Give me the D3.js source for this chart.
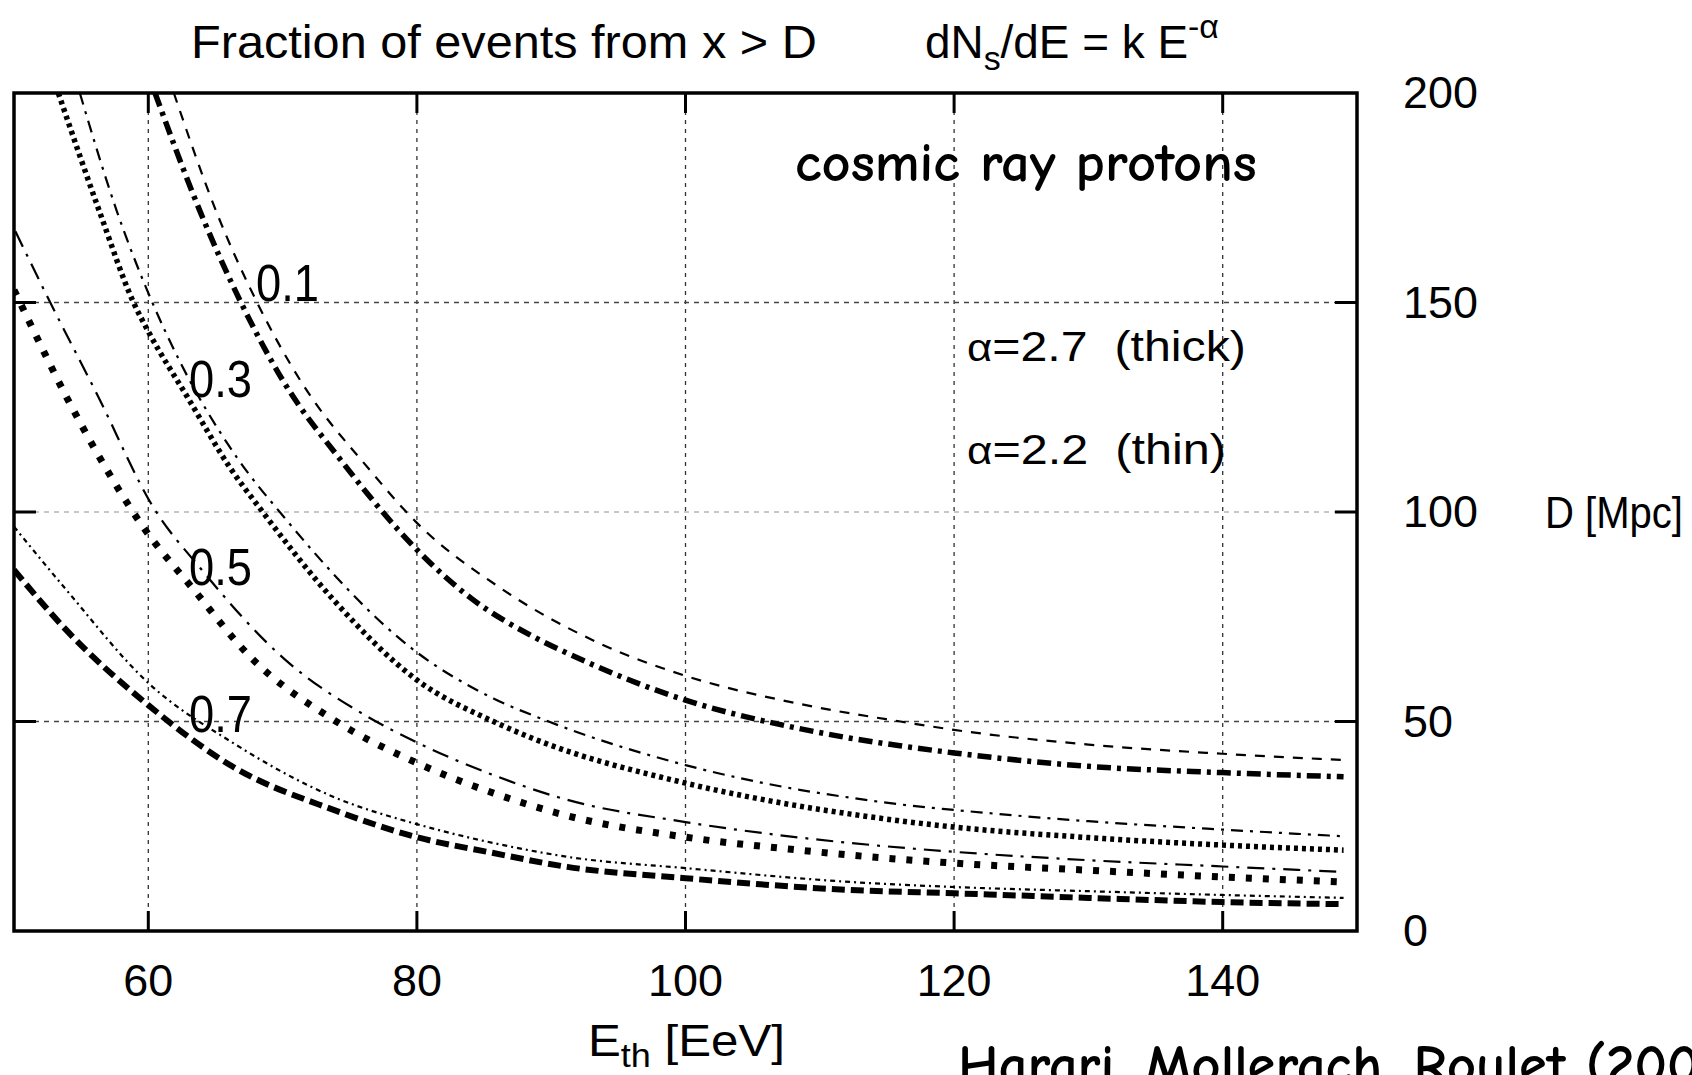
<!DOCTYPE html>
<html>
<head>
<meta charset="utf-8">
<script src="https://cdn.jsdelivr.net/npm/d3@7"></script>
<style>
  html, body { margin: 0; padding: 0; background: #fff; overflow: hidden; }
  svg { display: block; }
  text { font-family: "Liberation Sans", Arial, Helvetica, sans-serif; fill: #000; white-space: pre; }
  .comic { font-family: "Comic Sans MS", "Comic Neue", "Open Sans", sans-serif; font-weight: 700; }
</style>
</head>
<body>
<svg id="chart" width="1692" height="1075"></svg>
<script>
// ---------------- data ----------------
const xTicks = [60, 80, 100, 120, 140];
const yTicks = [0, 50, 100, 150, 200];
const yGrid = [50, 100, 150];
const fractionLabels = ["0.1", "0.3", "0.5", "0.7"];

// fraction 0.1
const E_01_thick = [60.5, 63.9, 66.9, 70.0, 74.5, 80, 84, 88.7, 91.2, 100, 108.5, 112.3, 116, 120, 130, 140, 149];
const D_01_thick = [200, 171.4, 150, 131.5, 111.7, 91, 79.5, 70.2, 66.3, 55.1, 48.3, 46.0, 44.2, 42.5, 39.3, 37.8, 36.8];
const E_01_thin  = [61.9, 65.1, 68.1, 71.3, 76.5, 80, 86.2, 93.7, 100, 108.5, 116, 120, 130, 140, 149];
const D_01_thin  = [200, 171.4, 150, 131.5, 110, 97.4, 81.9, 68.5, 60.9, 54.2, 50.0, 48.0, 44.5, 42.3, 40.8];
// fraction 0.3
const E_03_thick = [53.3, 56.4, 58.9, 60.1, 62.9, 66.1, 68.4, 73.8, 80, 85.7, 88.6, 100, 108.5, 112.3, 120, 130, 140, 149];
const D_03_thick = [200, 171.4, 150, 142.5, 127.5, 110.5, 100.5, 79, 59.9, 50.0, 46.0, 35.3, 29.8, 27.9, 24.8, 22.3, 20.5, 19.3];
const E_03_thin  = [54.9, 57.7, 60.3, 62.4, 66.6, 70.1, 80, 85.7, 89.4, 100, 108.5, 112.3, 116, 120, 130, 140, 149];
const D_03_thin  = [200, 171.4, 150, 135.6, 113, 98.8, 66.5, 55.5, 50.5, 39.6, 33.7, 31.8, 30.2, 28.9, 26.2, 24.2, 22.6];
// fraction 0.5
const E_05_thick = [50, 51.2, 53.9, 56.2, 59.6, 63.4, 67.6, 73.8, 80, 85.7, 91.2, 100, 108.5, 112.3, 120, 130, 140, 149];
const D_05_thick = [153, 145, 127.5, 114, 96.5, 81.4, 65.4, 50.4, 40.1, 32.9, 27.5, 22.4, 19.3, 18.1, 16.2, 14.5, 12.9, 11.7];
const E_05_thin  = [50.1, 52.7, 56.2, 60.4, 63.9, 70.1, 76.3, 80, 85.7, 91.2, 100, 108.5, 112.3, 120, 130, 140, 149];
const D_05_thin  = [167, 150, 128, 101, 86.5, 65, 51.2, 45, 37.2, 31.3, 26, 22.3, 21, 18.9, 16.9, 15.4, 14.1];
// fraction 0.7
const E_07_thick = [50, 53.9, 60, 66.3, 73.8, 80, 85.7, 91.2, 100, 112.3, 120, 130, 140, 149];
const D_07_thick = [86.2, 71.8, 53.9, 39.2, 28.9, 22.4, 18.6, 15.3, 12.6, 9.8, 9.0, 7.9, 6.9, 6.4];
const E_07_thin  = [50, 53.9, 60, 66.3, 73.8, 80, 85.7, 91.2, 100, 112.3, 120, 130, 140, 149];
const D_07_thin  = [96.5, 81.4, 59.2, 44.9, 32, 25.5, 21, 17.7, 15, 11.7, 10.5, 9.5, 8.6, 7.9];

// ---------------- styles ----------------
const series = [
  { E: E_01_thick, D: D_01_thick, w: 5.5, dash: "14,6,4,6" },
  { E: E_01_thin,  D: D_01_thin,  w: 2.2, dash: "10,9" },
  { E: E_03_thick, D: D_03_thick, w: 5.5, dash: "4,4" },
  { E: E_03_thin,  D: D_03_thin,  w: 2.2, dash: "12,7,3,7" },
  { E: E_05_thick, D: D_05_thick, w: 7,   dash: "6,11" },
  { E: E_05_thin,  D: D_05_thin,  w: 2.2, dash: "17,8,3,8" },
  { E: E_07_thick, D: D_07_thick, w: 6,   dash: "13,6" },
  { E: E_07_thin,  D: D_07_thin,  w: 2.2, dash: "5,4,2,4" }
];

const svg = d3.select("#chart");
const L = 14, R = 1357, T = 93, B = 931;
const x = d3.scaleLinear().domain([50, 150]).range([L, R]);
const y = d3.scaleLinear().domain([0, 200]).range([B, T]);

// text fitting helper: baseline at (x0,y0), stretch horizontally to width w
function fit(sel, x0, y0, w, anchor) {
  sel.attr("x", 0).attr("y", 0).attr("text-anchor", anchor || "start");
  const bw = sel.node().getComputedTextLength();
  const s = w ? w / bw : 1;
  sel.attr("transform", `translate(${x0},${y0}) scale(${s},1)`);
  return sel;
}

svg.append("defs").append("clipPath").attr("id", "plotclip")
  .append("rect").attr("x", L).attr("y", T).attr("width", R - L).attr("height", B - T);

// grid
const grid = svg.append("g");
grid.selectAll("line.vg").data(xTicks).join("line")
  .attr("x1", d => x(d)).attr("x2", d => x(d)).attr("y1", T).attr("y2", B)
  .attr("stroke", "#333").attr("stroke-width", 1.3).attr("stroke-dasharray", "4,5");
grid.selectAll("line.hg").data(yGrid).join("line")
  .attr("x1", L).attr("x2", R).attr("y1", d => y(d)).attr("y2", d => y(d))
  .attr("stroke", d => d === 100 ? "#b4b4c2" : "#444").attr("stroke-width", 1.3)
  .attr("stroke-dasharray", "5,5");

// curves
const line = d3.line().x(d => x(d[0])).y(d => y(d[1])).curve(d3.curveMonotoneX);
const curves = svg.append("g").attr("clip-path", "url(#plotclip)");
series.forEach(s => {
  curves.append("path")
    .attr("d", line(s.E.map((e, i) => [e, s.D[i]])))
    .attr("fill", "none").attr("stroke", "#000")
    .attr("stroke-width", s.w).attr("stroke-dasharray", s.dash);
});

// frame and ticks
svg.append("rect").attr("x", L).attr("y", T).attr("width", R - L).attr("height", B - T)
  .attr("fill", "none").attr("stroke", "#000").attr("stroke-width", 3.5);
const tk = svg.append("g").attr("stroke", "#000").attr("stroke-width", 3);
xTicks.forEach(v => {
  tk.append("line").attr("x1", x(v)).attr("x2", x(v)).attr("y1", B).attr("y2", B - 20);
  tk.append("line").attr("x1", x(v)).attr("x2", x(v)).attr("y1", T).attr("y2", T + 20);
});
yGrid.forEach(v => {
  tk.append("line").attr("x1", L).attr("x2", L + 22).attr("y1", y(v)).attr("y2", y(v));
  tk.append("line").attr("x1", R).attr("x2", R - 22).attr("y1", y(v)).attr("y2", y(v));
});

// tick labels
const tl = svg.append("g");
xTicks.forEach(v => {
  const t = tl.append("text").attr("font-size", 44).text(v);
  fit(t, x(v), 996, t.node().getComputedTextLength() * 1.02, "middle");
});
yTicks.forEach(v => {
  const t = tl.append("text").attr("font-size", 44).text(v);
  fit(t, 1403, y(v) + 15, t.node().getComputedTextLength() * 1.02, "start");
});

// axis titles
const xt = svg.append("text").attr("font-size", 45);
xt.append("tspan").text("E");
xt.append("tspan").attr("font-size", 33).attr("dy", 11).text("th");
xt.append("tspan").attr("dy", -11).text(" [EeV]");
fit(xt, 588, 1056, 197);

fit(svg.append("text").attr("font-size", 44).text("D [Mpc]"), 1545, 528, 138);

// title
fit(svg.append("text").attr("font-size", 46).text("Fraction of events from x > D"), 191, 58, 626);
const t2 = svg.append("text").attr("font-size", 46);
t2.append("tspan").text("dN");
t2.append("tspan").attr("font-size", 34).attr("dy", 12).text("s");
t2.append("tspan").attr("dy", -12).text("/dE = k E");
t2.append("tspan").attr("font-size", 34).attr("dy", -20).text("-α");
fit(t2, 925, 58, 294);

// curve labels
const labelPos = [[256, 301], [189, 397], [189, 585], [189, 732]];
fractionLabels.forEach((lab, i) => {
  fit(svg.append("text").attr("font-size", 52).text(lab), labelPos[i][0], labelPos[i][1], 63);
});

// legend texts
const a1 = svg.append("text").attr("font-size", 42);
a1.append("tspan").attr("font-size", 38).text("α");
a1.append("tspan").text("=2.7  (thick)");
fit(a1, 967, 361, 279);
const a2 = svg.append("text").attr("font-size", 42);
a2.append("tspan").attr("font-size", 38).text("α");
a2.append("tspan").text("=2.2  (thin)");
fit(a2, 967, 464, 259);

// annotations
fit(svg.append("text").attr("class", "comic").attr("font-size", 54).text("cosmic ray protons"), 795, 181, 462);

const hr = svg.append("text").attr("class", "comic").attr("font-size", 56).text("Harari, Mollerach, Roulet (20");
const hrW = hr.node().getComputedTextLength();
const hrScale = 709 / hrW;
hr.text("Harari, Mollerach, Roulet (2006)").attr("x", 0).attr("y", 0)
  .attr("transform", `translate(958,1084) scale(${hrScale},1)`);
</script>
</body>
</html>
